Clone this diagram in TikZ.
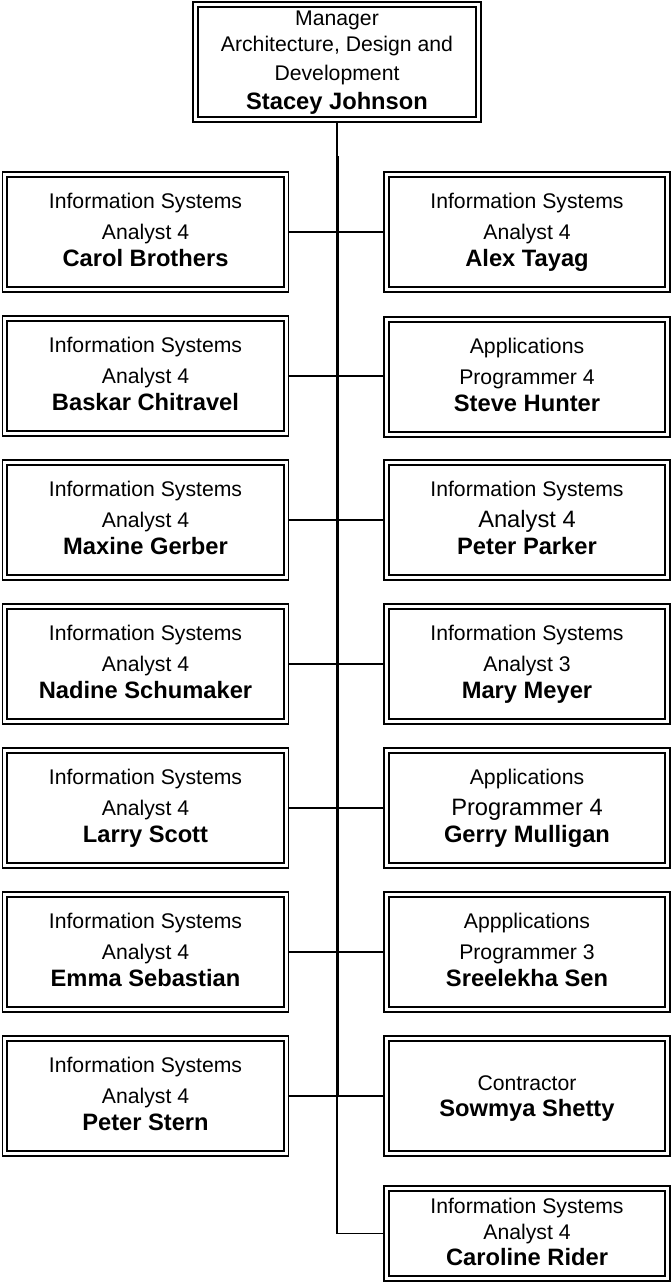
\documentclass[tikz,border=0pt]{standalone}
\usepackage{fontspec}
\setmainfont{Liberation Sans}
\usetikzlibrary{calc}
\newcommand\regf{\fontsize{21.2pt}{25pt}\selectfont}
\newcommand\bigf{\fontsize{23.7pt}{28pt}\selectfont}
\newcommand\namef{\fontsize{23.7pt}{28pt}\selectfont\bfseries}
\tikzset{
  orgbox/.style={draw, line width=1.3pt, minimum width=286pt, minimum height=120pt, inner sep=0pt,
    path picture={\draw[line width=2pt] ([shift={(4.8pt,-4.8pt)}]path picture bounding box.north west) rectangle ([shift={(-4.8pt,4.8pt)}]path picture bounding box.south east);}},
  txt/.style={anchor=base, inner sep=0pt, font=\regf},
  nametxt/.style={anchor=base, inner sep=0pt, font=\namef},
  link/.style={line width=1.5pt},
  spine/.style={line width=3pt},
}
% name, x, y, line1, line2, name-line
\newcommand\stdbox[6]{%
  \node[orgbox] (#1) at (#2,#3) {};
  \node[txt] (#1-a) at ([yshift=24pt]#1.center) {#4};
  \node[txt] (#1-b) at ([yshift=-7pt]#1.center) {#5};
  \node[nametxt] (#1-c) at ([yshift=-34pt]#1.center) {#6};
}
\begin{document}
\begin{tikzpicture}[x=1pt,y=-1pt]
\useasboundingbox (0,0) rectangle (671,1282);
\fill[white] (0,0) rectangle (671,1282);
% manager
\node[orgbox, minimum width=288pt] (mgr) at (337,62) {};
\node[txt] (mgr-a) at ([yshift=37pt]mgr.center) {Manager};
\node[txt] (mgr-b) at ([yshift=11pt]mgr.center) {Architecture, Design and};
\node[txt] (mgr-c) at ([yshift=-18pt]mgr.center) {Development};
\node[nametxt] (mgr-d) at ([yshift=-47pt]mgr.center) {Stacey Johnson};
% left column
\stdbox{L1}{145.5}{232}{Information Systems}{Analyst 4}{Carol Brothers}
\stdbox{L2}{145.5}{376}{Information Systems}{Analyst 4}{Baskar Chitravel}
\stdbox{L3}{145.5}{520}{Information Systems}{Analyst 4}{Maxine Gerber}
\stdbox{L4}{145.5}{664}{Information Systems}{Analyst 4}{Nadine Schumaker}
\stdbox{L5}{145.5}{808}{Information Systems}{Analyst 4}{Larry Scott}
\stdbox{L6}{145.5}{952}{Information Systems}{Analyst 4}{Emma Sebastian}
\stdbox{L7}{145.5}{1096}{Information Systems}{Analyst 4}{Peter Stern}
% right column
\stdbox{R1}{527}{232}{Information Systems}{Analyst 4}{Alex Tayag}
\stdbox{R2}{527}{377}{Applications}{Programmer 4}{Steve Hunter}
\stdbox{R3}{527}{520}{Information Systems}{\bigf Analyst 4}{Peter Parker}
\stdbox{R4}{527}{664}{Information Systems}{Analyst 3}{Mary Meyer}
\stdbox{R5}{527}{808}{Applications}{\bigf Programmer 4}{Gerry Mulligan}
\stdbox{R6}{527}{952}{Appplications}{Programmer 3}{Sreelekha Sen}
\node[orgbox] (R7) at (527,1096) {};
\node[txt] (R7-a) at ([yshift=6pt]R7.center) {Contractor};
\node[nametxt] (R7-b) at ([yshift=-20pt]R7.center) {Sowmya Shetty};
\node[orgbox, minimum height=95pt] (R8) at (527,1233.5) {};
\node[txt] (R8-a) at ([yshift=20pt]R8.center) {Information Systems};
\node[txt] (R8-b) at ([yshift=-6pt]R8.center) {Analyst 4};
\node[nametxt] (R8-c) at ([yshift=-32pt]R8.center) {Caroline Rider};
% connectors
\coordinate (sTop) at (337,156);
\coordinate (sBot) at (337,1097);
\coordinate (sEnd) at (337,1233.5);
\draw[link] (mgr.south) -- (sTop);
\draw[spine] (sTop) -- (sBot);
\foreach \i in {1,...,7}{\draw[link] (L\i.east) -- (L\i.east -| R\i.west);}
\draw[link] (sBot) -- (sEnd) -- (R8.west);
\end{tikzpicture}
\end{document}
